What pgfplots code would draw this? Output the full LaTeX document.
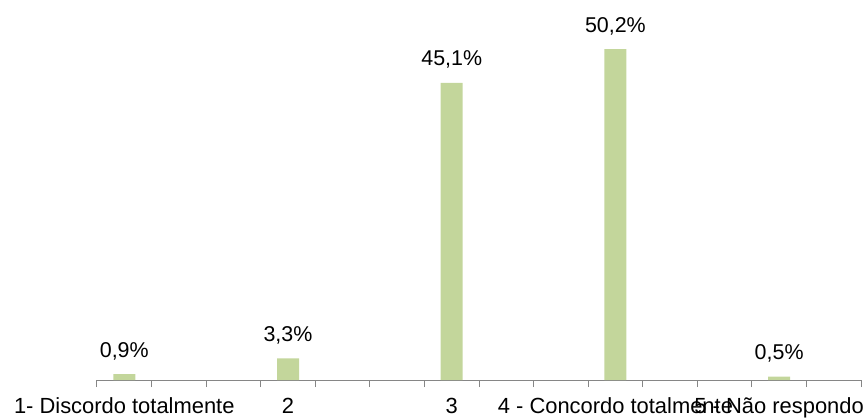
\documentclass[border=0pt]{standalone}
\usepackage{fontspec}
\setmainfont{Liberation Sans}
\usepackage{pgfplots}
\pgfplotsset{compat=1.18}
\definecolor{bargreen}{RGB}{195,214,155}
\definecolor{axgray}{RGB}{134,134,134}
\begin{document}
\begin{tikzpicture}
\begin{axis}[
  scale only axis,
  width=764bp, height=362.45bp,
  xmin=0, xmax=14, ymin=0, ymax=55,
  axis x line*=bottom,
  axis y line=none,
  x axis line style={axgray, line width=1bp},
  xtick={0.5,3.5,6.5,9.5,12.5},
  xticklabels={1- Discordo totalmente,2,3,4 - Concordo totalmente,5 - Não respondo},
  major tick length=0pt,
  minor xtick={0,1,...,14},
  minor tick length=7bp,
  tick align=outside,
  minor tick style={axgray, line width=1bp},
  xticklabel style={anchor=base, yshift=-33bp, font=\fontsize{22}{26}\selectfont, text=black},
  clip=false,
  ybar, bar width=22bp,
  point meta=explicit symbolic,
  nodes near coords,
  every node near coord/.append style={anchor=base, yshift=17bp, font=\fontsize{21.5}{26}\selectfont, text=black},
]
\coordinate (bl) at (rel axis cs:0,0);
\addplot[fill=bargreen, draw=none] table[x=x, y=y, meta=lab] {
x y lab
0.5 0.9 0,9\%
3.5 3.3 3,3\%
6.5 45.1 45,1\%
9.5 50.2 50,2\%
12.5 0.5 0,5\%
};
\end{axis}
\pgfresetboundingbox
\path ([shift={(-97bp,-39bp)}]bl) rectangle ([shift={(769bp,380bp)}]bl);
\end{tikzpicture}
\end{document}
